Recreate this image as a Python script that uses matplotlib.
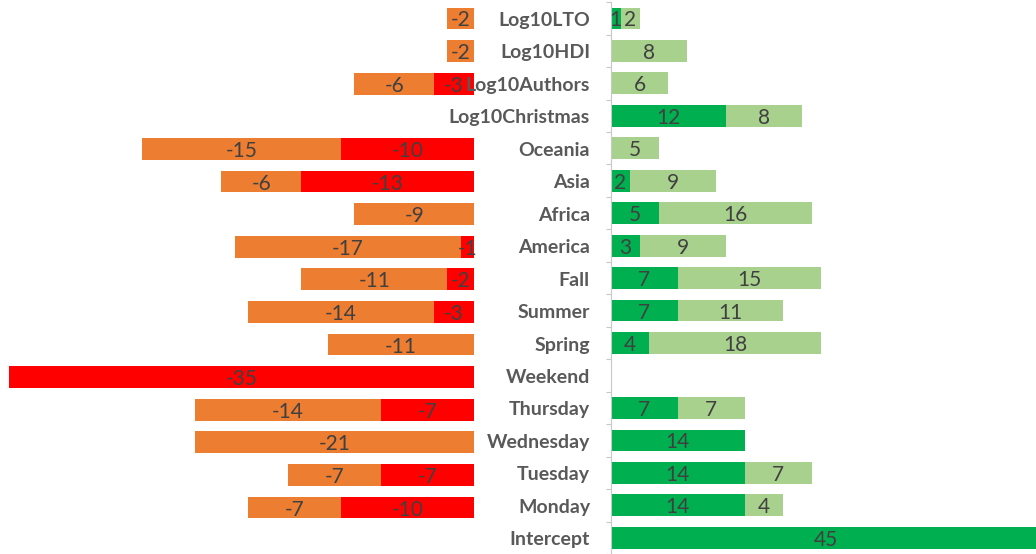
import matplotlib
matplotlib.use("Agg")
import matplotlib.pyplot as plt
import matplotlib.transforms as mtransforms

plt.rcParams['font.family'] = ['Lato', 'DejaVu Sans']

categories = ['Log10LTO', 'Log10HDI', 'Log10Authors', 'Log10Christmas', 'Oceania', 'Asia',
              'Africa', 'America', 'Fall', 'Summer', 'Spring', 'Weekend', 'Thursday',
              'Wednesday', 'Tuesday', 'Monday', 'Intercept']
neg_outer = [-2, -2, -6, 0, -15, -6, -9, -17, -11, -14, -11, 0, -14, -21, -7, -7, 0]   # orange
neg_inner = [0, 0, -3, 0, -10, -13, 0, -1, -2, -3, 0, -35, -7, 0, -7, -10, 0]         # red
pos_inner = [1, 0, 0, 12, 0, 2, 5, 3, 7, 7, 4, 0, 7, 14, 14, 14, 45]                  # dark green
pos_outer = [2, 8, 6, 8, 5, 9, 16, 9, 15, 11, 18, 0, 7, 0, 7, 4, 0]                   # light green

ORANGE = '#ED7D31'
RED = '#FF0000'
DGREEN = '#00B050'
LGREEN = '#A9D18E'
TXT = '#404040'

W, H = 1036, 554
fig = plt.figure(figsize=(W / 100, H / 100), dpi=100)

# row geometry: first row centre at 18.5 px, step 32.6 px
step = 32.6
top = -18.5 / step
bot = (H - 18.5) / step
ax_l = fig.add_axes([0, 0, 474 / W, 1])
ax_r = fig.add_axes([611 / W, 0, (W - 611) / W, 1])

ax_l.set_xlim(-474 / 13.29, 0)
ax_r.set_xlim(0, (W - 611) / 9.55)
for ax in (ax_l, ax_r):
    ax.set_ylim(bot, top)
    ax.set_facecolor('none')
    for s in ax.spines.values():
        s.set_visible(False)
    ax.set_xticks([])
    ax.set_yticks([])

y = list(range(len(categories)))
bh = 0.67

ax_l.barh(y, neg_inner, height=bh, color=RED)
ax_l.barh(y, neg_outer, left=neg_inner, height=bh, color=ORANGE)
ax_r.barh(y, pos_inner, height=bh, color=DGREEN)
ax_r.barh(y, pos_outer, left=pos_inner, height=bh, color=LGREEN)

# text sits a touch lower than the bar centre
tl = mtransforms.offset_copy(ax_l.transData, fig=fig, y=-2, units='dots')
tr = mtransforms.offset_copy(ax_r.transData, fig=fig, y=-2, units='dots')

fs = 15
for i in y:
    if neg_inner[i] != 0:
        ax_l.text(neg_inner[i] / 2, i, str(neg_inner[i]), ha='center', va='center',
                  color=TXT, fontsize=fs, transform=tl, clip_on=False)
    if neg_outer[i] != 0:
        ax_l.text(neg_inner[i] + neg_outer[i] / 2, i, str(neg_outer[i]), ha='center',
                  va='center', color=TXT, fontsize=fs, transform=tl)
    if pos_inner[i] != 0:
        ax_r.text(pos_inner[i] / 2, i, str(pos_inner[i]), ha='center', va='center',
                  color=TXT, fontsize=fs, transform=tr)
    if pos_outer[i] != 0:
        ax_r.text(pos_inner[i] + pos_outer[i] / 2, i, str(pos_outer[i]), ha='center',
                  va='center', color=TXT, fontsize=fs, transform=tr)

# category axis line with ticks between rows
ax_r.spines['left'].set_visible(True)
ax_r.spines['left'].set_color('#C8C8C8')
ax_r.spines['left'].set_bounds(-0.5, len(categories) - 0.5)
ax_r.set_yticks([i - 0.5 for i in range(len(categories) + 1)])
ax_r.set_yticklabels([])
ax_r.tick_params(axis='y', length=3.5, color='#C8C8C8', direction='out')

trans = mtransforms.offset_copy(
    mtransforms.blended_transform_factory(fig.transFigure, ax_r.transData),
    fig=fig, y=-2, units='dots')
for i, c in enumerate(categories):
    fig.text(590 / W, i, c, transform=trans, ha='right', va='center',
             fontsize=14, fontweight='bold', color='#595959')

fig.savefig('out.png', dpi=100)
